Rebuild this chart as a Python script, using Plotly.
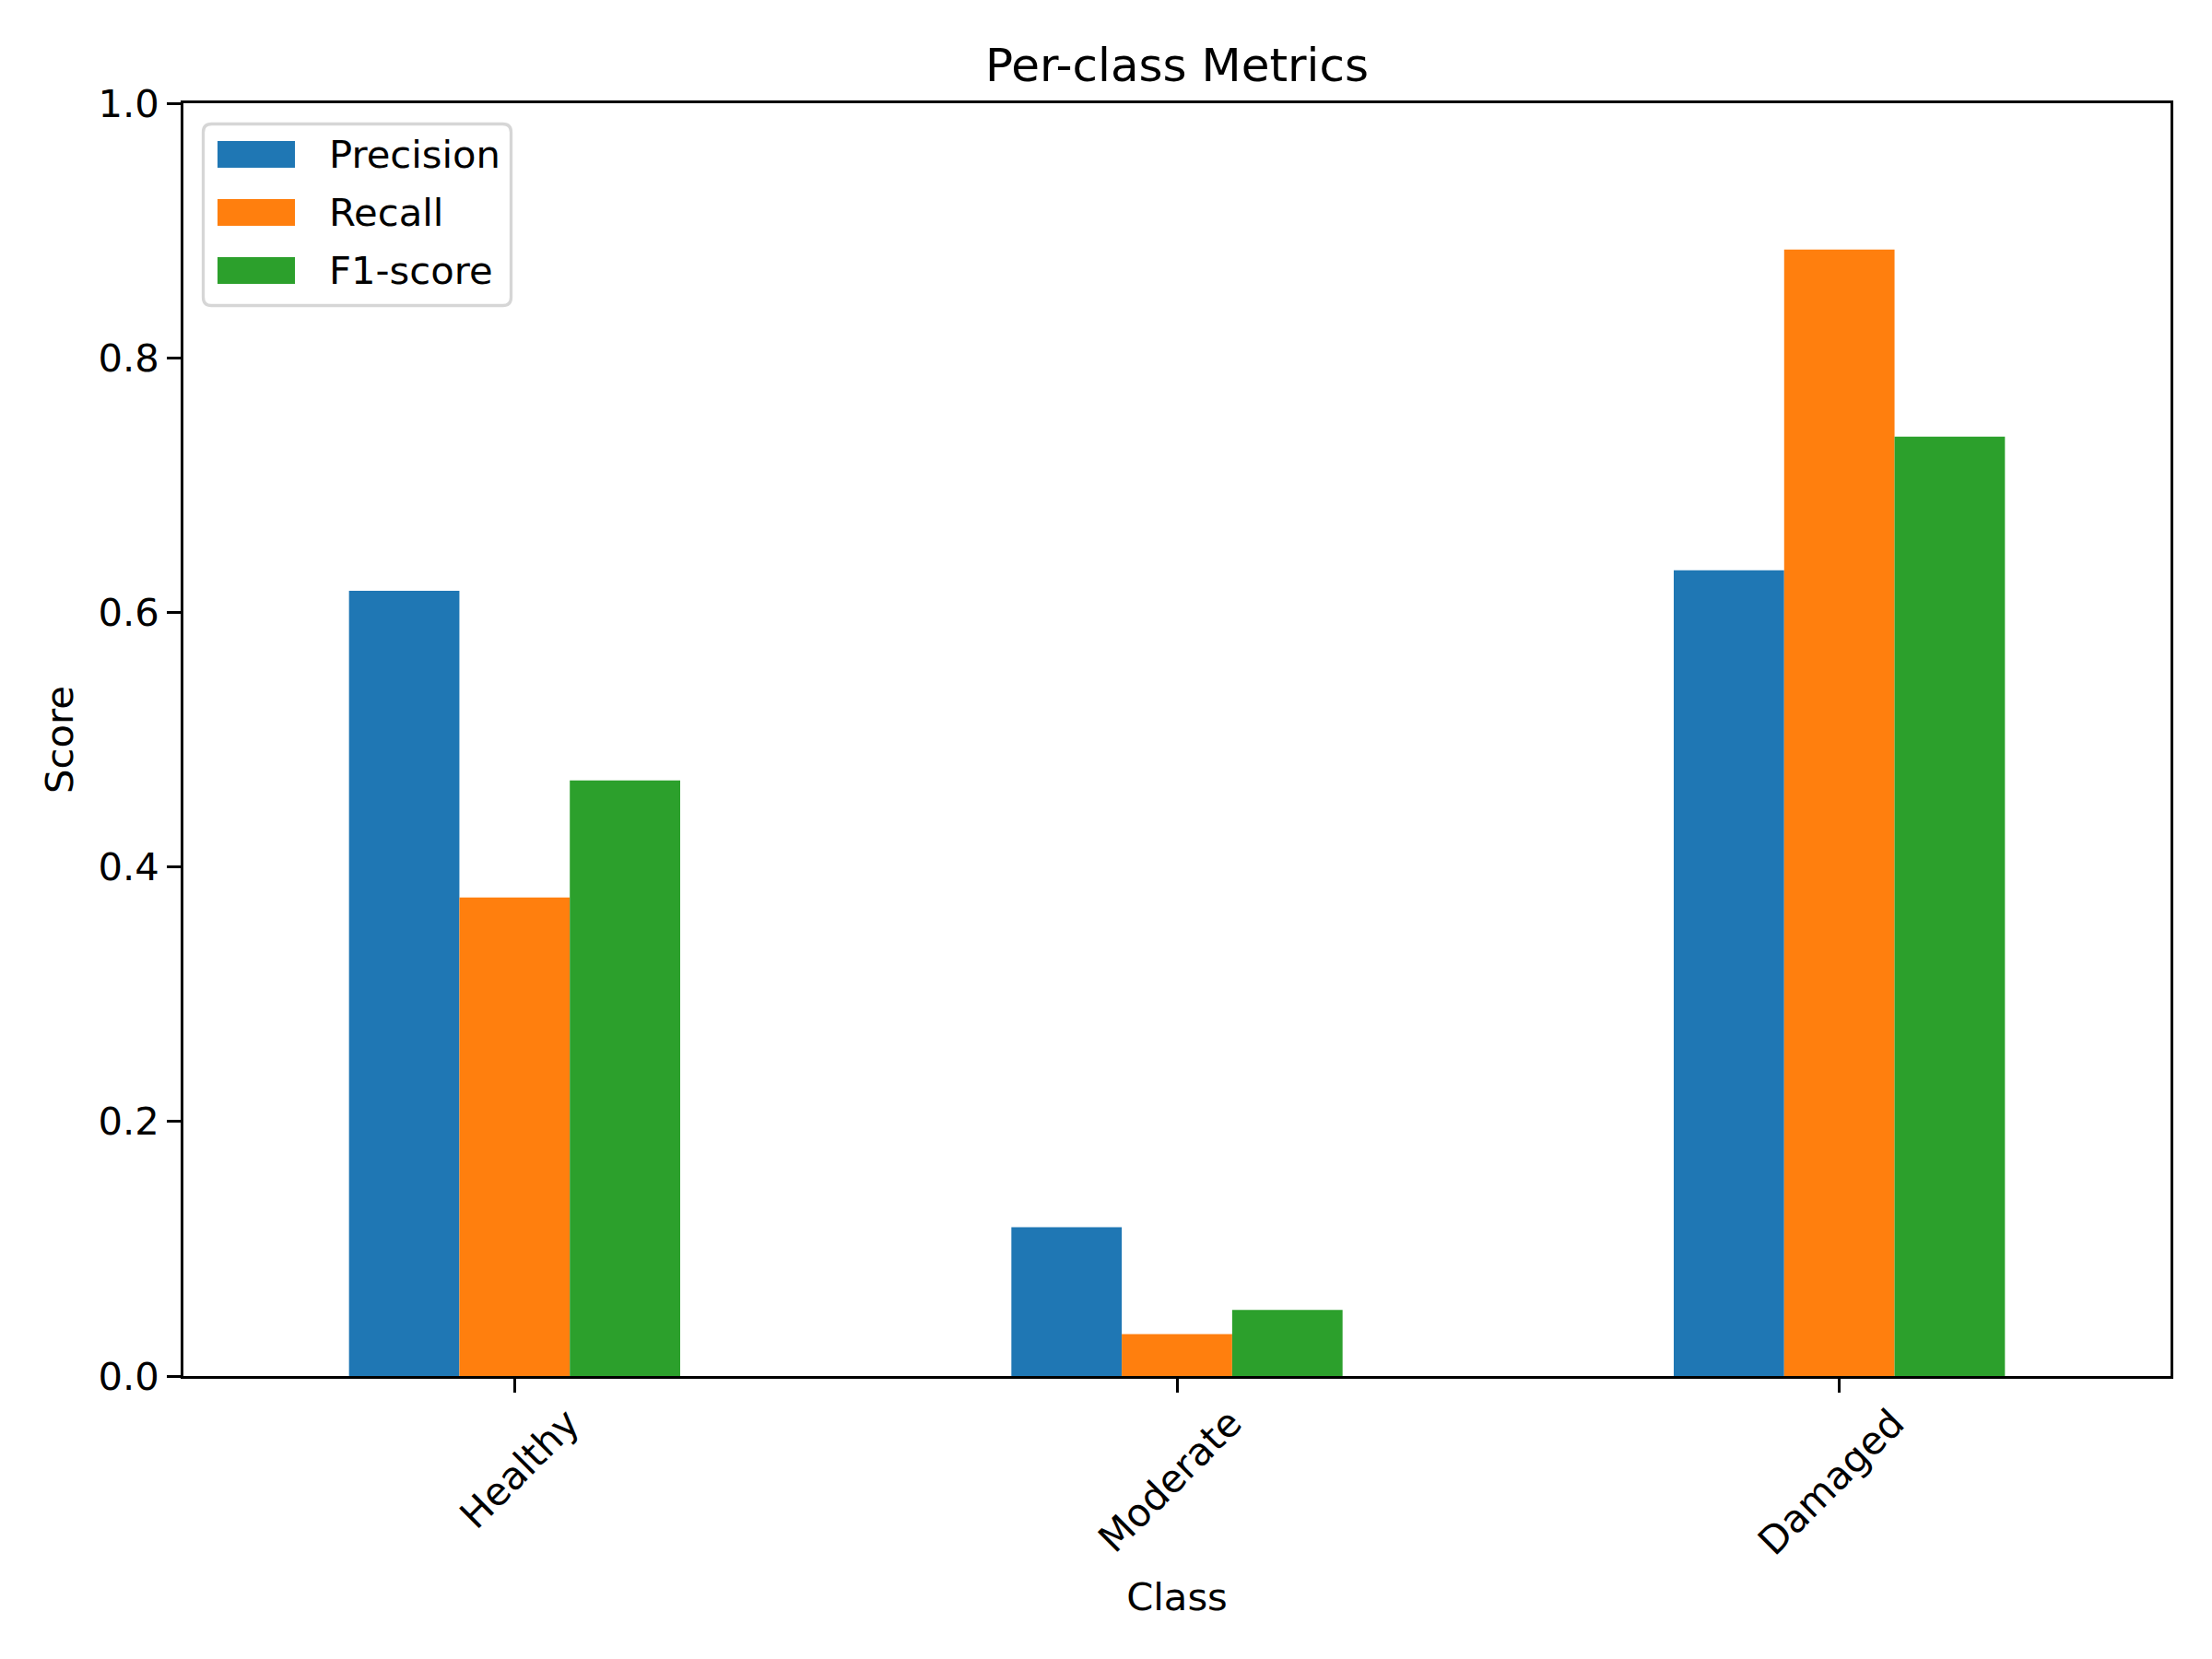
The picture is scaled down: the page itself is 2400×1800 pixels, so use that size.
import plotly.graph_objects as go

classes = ["Healthy", "Moderate", "Damaged"]
precision = [0.617, 0.117, 0.633]
recall = [0.376, 0.033, 0.885]
f1_score = [0.468, 0.052, 0.738]
series_names = ["Precision", "Recall", "F1-score"]
colors = ["#1f77b4", "#ff7f0e", "#2ca02c"]
y_ticks = [0.0, 0.2, 0.4, 0.6, 0.8, 1.0]

FONT = "DejaVu Sans"
fs = 41.7

# plot area in page pixels
W_FIG, H_FIG = 2400, 1800
L, R, T, B = 199, 2355, 112, 1493
PW, PH = R - L, B - T


def px(xp):
    return (xp - L) / PW


def py(yp):
    return 1 - (yp - T) / PH


fig = go.Figure()
for name, vals, col in zip(series_names, [precision, recall, f1_score], colors):
    fig.add_trace(go.Bar(x=classes, y=vals, name=name,
                         marker=dict(color=col, line=dict(width=0))))

# legend (matplotlib style: wide swatches inside a rounded frame)
shapes = []
annotations = []
x0, y0, x1, y1, rr = 220.5, 134.5, 554.5, 331.5, 9
path = (f"M{px(x0 + rr)},{py(y0)} L{px(x1 - rr)},{py(y0)} Q{px(x1)},{py(y0)} {px(x1)},{py(y0 + rr)} "
        f"L{px(x1)},{py(y1 - rr)} Q{px(x1)},{py(y1)} {px(x1 - rr)},{py(y1)} "
        f"L{px(x0 + rr)},{py(y1)} Q{px(x0)},{py(y1)} {px(x0)},{py(y1 - rr)} "
        f"L{px(x0)},{py(y0 + rr)} Q{px(x0)},{py(y0)} {px(x0 + rr)},{py(y0)} Z")
shapes.append(dict(type="path", xref="paper", yref="paper", path=path,
                   fillcolor="rgba(255,255,255,0.8)", line=dict(color="#d6d6d6", width=3.3),
                   layer="above"))
row_centers = [167.5, 230.5, 293.5]
for name, col, yc in zip(series_names, colors, row_centers):
    shapes.append(dict(type="rect", xref="paper", yref="paper",
                       x0=px(236), x1=px(320), y0=py(yc - 14.5), y1=py(yc + 14.5),
                       fillcolor=col, line=dict(width=0), layer="above"))
    annotations.append(dict(text=name, xref="paper", yref="paper", x=px(355), y=py(yc),
                            xanchor="left", yanchor="middle", showarrow=False,
                            font=dict(size=fs, family=FONT, color="black")))

fig.update_layout(
    width=W_FIG, height=H_FIG,
    margin=dict(l=L, r=W_FIG - R, t=T, b=H_FIG - B),
    paper_bgcolor="white", plot_bgcolor="white",
    barmode="group", bargap=0.5, bargroupgap=0,
    font=dict(family=FONT, size=fs, color="black"),
    title=dict(text="Per-class Metrics", x=0.5, xref="paper", xanchor="center",
               y=1 - 70 / H_FIG, yref="container", yanchor="middle", font=dict(size=50)),
    showlegend=False,
    shapes=shapes,
    annotations=annotations,
)

fig.update_xaxes(
    range=[-0.5, 2.5], showline=True, linecolor="black", linewidth=3.3, mirror=True,
    ticks="outside", ticklen=14.6, tickwidth=3.3, tickcolor="black",
    tickangle=-45, ticklabelshift=58, ticklabelstandoff=-8,
    showgrid=False, zeroline=False,
    title=dict(text="Class", font=dict(size=fs), standoff=22),
)
fig.update_yaxes(
    range=[0, 1.0], tickvals=y_ticks, ticktext=[f"{v:.1f}" for v in y_ticks],
    showline=True, linecolor="black", linewidth=3.3, mirror=True,
    ticks="outside", ticklen=14.6, tickwidth=3.3, tickcolor="black",
    ticklabelstandoff=0,
    showgrid=False, zeroline=False,
    title=dict(text="Score", font=dict(size=fs), standoff=15),
)

fig.write_html("out.html", config={"displayModeBar": False},
               post_script="document.body.style.margin='0';document.body.style.overflow='hidden';")
